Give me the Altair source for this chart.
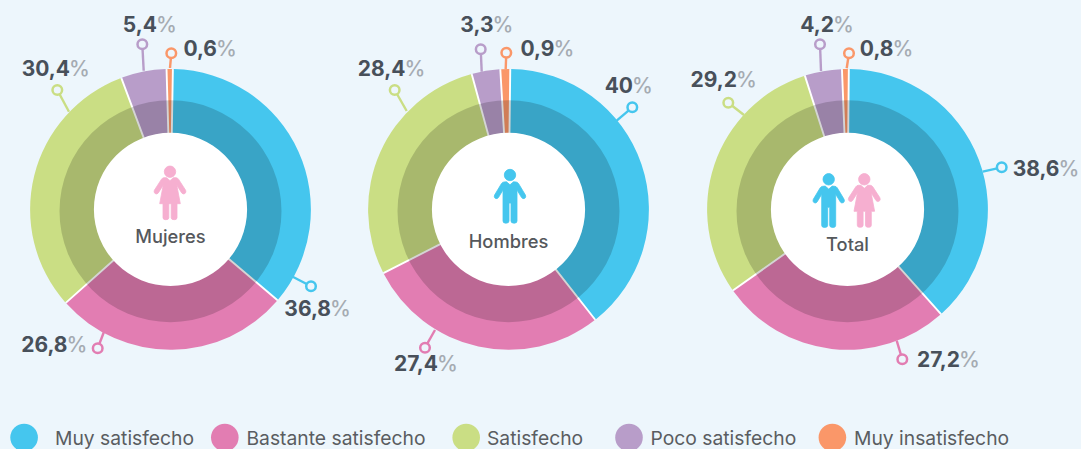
import altair as alt
import pandas as pd

W, H = 1081, 449
BG = "#edf6fc"
FONT = "Inter"

categories = ["Muy satisfecho", "Bastante satisfecho", "Satisfecho", "Poco satisfecho", "Muy insatisfecho"]
colors = ["#45c6ee", "#e27db2", "#cade84", "#b89dc9", "#fa9769"]
panels = ["Mujeres", "Hombres", "Total"]
number_labels = [
    ["36,8", "26,8", "30,4", "5,4", "0,6"],
    ["40", "27,4", "28,4", "3,3", "0,9"],
    ["38,6", "27,2", "29,2", "4,2", "0,8"],
]
# slice edges as drawn in the picture, in percent of the full circle
mujeres_edges = [0.27, 36.2, 63.4, 94.3, 99.55, 100.27]
hombres_edges = [0.2, 39.4, 67.5, 95.78, 99.07, 100.2]
total_edges = [0.15, 38.4, 65.2, 95.09, 99.37, 100.15]

# layout tables
centers_x = [170.5, 508.5, 847.5]
center_y = 209.4
shade_y = 211.2
label_y = [238, 243, 246]
# leader: start x, start y, dot x, dot y, end of number x, text y
leaders = [
    [(292.7, 276.7, 311, 286.3, 331, 309.5), (104, 331.7, 97.7, 348.3, 67.5, 345.5), (69, 111.7, 57.3, 90, 70, 69.5), (143.7, 70.7, 142.3, 44.3, 157, 25.5), (170, 68, 171.3, 53.3, 217, 49.5)],
    [(616.7, 120.7, 632.3, 107.3, 633, 87), (435, 330, 425, 347.7, 438, 364.5), (406.7, 111, 394.7, 90, 405.5, 69.5), (481.7, 71.7, 480.7, 49.3, 493.5, 25.5), (505.7, 69, 506.3, 52.7, 554.5, 49.5)],
    [(982.7, 171.7, 1001.7, 167.3, 1059.5, 170), (896.7, 340.7, 902.3, 359.3, 960, 360.5), (744, 115, 728.3, 102.7, 737, 80.5), (821, 71, 820, 44.3, 834, 25.5), (846.7, 68.3, 849, 53.3, 893.5, 49.5)],
]
legend_dot_x = [24.1, 224.8, 466.2, 629, 832.4]
legend_text_x = [55, 246.5, 487, 650.5, 854]
legend_dot_y = 437.6
legend_text_y = 439
icons = [("w", 170, 171.7), ("m", 510, 175), ("m", 828.7, 179.3), ("w", 864.3, 179.3)]

WOMAN = ("M-5.7 0A5.7 5.7 0 1 1 5.7 0A5.7 5.7 0 1 1 -5.7 0Z"
         "M-3.5 6L0 9L3.5 6L6 6Q7.5 6 8.5 7.5L15.6 18.5Q16.5 20.5 15 21.8Q13 23 11.7 21.2L6.8 13.5L10.3 32L7 32L7 46Q7 48 4.2 48Q1.2 48 1.2 46L1.2 32L-1.2 32L-1.2 46Q-1.2 48 -4.2 48Q-7 48 -7 46L-7 32L-10.3 32L-6.8 13.5L-11.7 21.2Q-13 23 -15 21.8Q-16.5 20.5 -15.6 18.5L-8.5 7.5Q-7.5 6 -6 6Z")
MAN = ("M-5.7 0A5.7 5.7 0 1 1 5.7 0A5.7 5.7 0 1 1 -5.7 0Z"
       "M-3.5 6.8L0 9.8L3.5 6.8L6 7Q7.5 7 8.5 8.5L15.4 20Q16.3 22 14.8 23.3Q12.8 24.3 11.6 22.6L7 15L7 46Q7 48.2 4.2 48.2Q1 48.2 1 46L1 28L-1 28L-1 46Q-1 48.2 -4.2 48.2Q-7 48.2 -7 46L-7 15L-11.6 22.6Q-12.8 24.3 -14.8 23.3Q-16.3 22 -15.4 20L-8.5 8.5Q-7.5 7 -6 7Z")

rows, leader_rows = [], []
for p, edges, cx, labs, lead in zip(panels, [mujeres_edges, hombres_edges, total_edges], centers_x, number_labels, leaders):
    for i, (cat, lab, l) in enumerate(zip(categories, labs, lead)):
        rows.append(dict(panel=p, cat=cat, start=edges[i], end=edges[i + 1], cx=cx, cy=center_y))
        leader_rows.append(dict(cat=cat, x=l[0], y=l[1], x2=l[2], y2=l[3], tx=l[4], tx2=l[4] - 1, ty=l[5], num=lab, pct="%"))
arcs = pd.DataFrame(rows)
disks = pd.DataFrame([dict(cx=cx, cy=center_y, start=0, end=100) for cx in centers_x])
shades = pd.DataFrame([dict(cx=cx, cy=shade_y, start=0, end=100) for cx in centers_x])
lead_df = pd.DataFrame(leader_rows)
names = pd.DataFrame(dict(name=panels, x=centers_x, y=label_y))
legend_df = pd.DataFrame(dict(cat=categories, dx=legend_dot_x, tx=legend_text_x, dy=[legend_dot_y] * 5, ty=[legend_text_y] * 5))
icon_df = pd.DataFrame(icons, columns=["sex", "x", "y"])


def xf(f):
    return alt.X(f, scale=alt.Scale(domain=[0, W], nice=False, zero=False), axis=None)


def yf(f):
    return alt.Y(f, scale=alt.Scale(domain=[H, 0], nice=False, zero=False), axis=None)


X, Y = xf("cx:Q"), yf("cy:Q")
TH = alt.Theta("start:Q", scale=alt.Scale(domain=[0, 100], range=[0, 6.283185307]))
TH2 = alt.Theta2("end:Q")
COL = alt.Color("cat:N", scale=alt.Scale(domain=categories, range=colors), legend=None)

base_disk = alt.Chart(disks).mark_arc(outerRadius=139.8, innerRadius=0, fill="#ffffff").encode(x=X, y=Y, theta=TH, theta2=TH2)
outer = alt.Chart(arcs).mark_arc(outerRadius=140.4, innerRadius=70, padAngle=0.012).encode(x=X, y=Y, theta=TH, theta2=TH2, color=COL)
shade = alt.Chart(shades).mark_arc(outerRadius=111, innerRadius=0, fill="#000000", opacity=0.17).encode(x=X, y=Y, theta=TH, theta2=TH2)
hole = alt.Chart(disks).mark_arc(outerRadius=76.6, innerRadius=0, fill="#ffffff").encode(x=X, y=Y, theta=TH, theta2=TH2)

rules = alt.Chart(lead_df).mark_rule(strokeWidth=2.4).encode(x=xf("x:Q"), y=yf("y:Q"), x2="x2:Q", y2="y2:Q", color=COL)
dots = alt.Chart(lead_df).mark_point(filled=False, fill=BG, fillOpacity=1, size=92, strokeWidth=2.5, opacity=1).encode(
    x=xf("x2:Q"), y=yf("y2:Q"), stroke=alt.Stroke("cat:N", scale=alt.Scale(domain=categories, range=colors), legend=None))
nums = alt.Chart(lead_df).mark_text(align="right", baseline="middle", font=FONT, fontSize=21, fontWeight=700, color="#48505a").encode(x=xf("tx:Q"), y=yf("ty:Q"), text="num:N")
pcts = alt.Chart(lead_df).mark_text(align="left", baseline="middle", font=FONT, fontSize=21, fontWeight=500, color="#a5abb2").encode(x=xf("tx2:Q"), y=yf("ty:Q"), text="pct:N")

names_l = alt.Chart(names).mark_text(align="center", baseline="middle", font=FONT, fontSize=18.3, fontWeight=500, color="#55585c").encode(x=xf("x:Q"), y=yf("y:Q"), text="name:N")
woman = alt.Chart(icon_df[icon_df.sex == "w"]).mark_point(shape=WOMAN, size=4, filled=True, color="#f6afd0", stroke="#f6afd0", strokeWidth=0.8, opacity=1).encode(x=xf("x:Q"), y=yf("y:Q"))
man = alt.Chart(icon_df[icon_df.sex == "m"]).mark_point(shape=MAN, size=4, filled=True, color="#45c6ee", stroke="#45c6ee", strokeWidth=0.8, opacity=1).encode(x=xf("x:Q"), y=yf("y:Q"))

leg_dots = alt.Chart(legend_df).mark_point(filled=True, size=762, opacity=1).encode(x=xf("dx:Q"), y=yf("dy:Q"), color=COL)
leg_text = alt.Chart(legend_df).mark_text(align="left", baseline="middle", font=FONT, fontSize=19.3, color="#5a5d61").encode(x=xf("tx:Q"), y=yf("ty:Q"), text="cat:N")

chart = alt.layer(base_disk, outer, shade, hole, rules, dots, nums, pcts, names_l, woman, man, leg_dots, leg_text).properties(
    width=W, height=H, padding=0, background=BG,
    autosize=alt.AutoSizeParams(type="none"),
).configure_view(stroke=None)

chart.save("out.html", embed_options={
    "renderer": "svg", "actions": False,
    "defaultStyle": "html,body{margin:0;padding:0;overflow:hidden;background:#edf6fc}",
})
